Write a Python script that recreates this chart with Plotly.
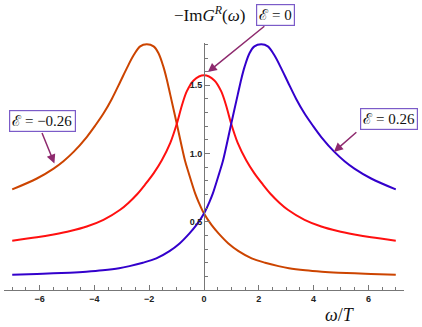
import plotly.graph_objects as go

# ---- data ----
omega_blue = [-7.0, -6.1, -5.5, -4.9, -4.3, -3.7, -3.1, -2.72, -2.23, -1.74, -1.26, -0.89, -0.53,
              -0.28, 0.0, 0.2, 0.32, 0.57, 0.69, 0.99, 1.23, 1.36, 1.48, 1.66, 1.84, 2.09, 2.33,
              2.57, 2.82, 3.06, 3.36, 3.67, 3.97, 4.28, 4.76, 5.13, 5.49, 6.1, 7.0]
img_blue = [0.112, 0.117, 0.122, 0.127, 0.134, 0.144, 0.159, 0.175, 0.200, 0.232, 0.285, 0.341,
            0.415, 0.475, 0.56, 0.646, 0.706, 0.865, 0.945, 1.215, 1.43, 1.545, 1.635, 1.735,
            1.785, 1.80, 1.785, 1.72, 1.624, 1.524, 1.402, 1.293, 1.205, 1.121, 1.012, 0.944,
            0.89, 0.817, 0.737]

omega_orange = [-7.0, -6.1, -5.49, -5.13, -4.76, -4.28, -3.97, -3.67, -3.36, -3.06, -2.82, -2.57,
                -2.33, -2.09, -1.84, -1.66, -1.48, -1.36, -1.23, -0.99, -0.69, -0.57, -0.32,
                -0.2, 0.0, 0.28, 0.53, 0.89, 1.26, 1.74, 2.23, 2.72, 3.1, 3.7, 4.3, 4.9, 5.5,
                6.1, 7.0]
img_orange = [0.737, 0.817, 0.89, 0.944, 1.012, 1.121, 1.205, 1.293, 1.402, 1.524, 1.624, 1.72,
              1.785, 1.80, 1.785, 1.735, 1.635, 1.545, 1.43, 1.215, 0.945, 0.865, 0.706, 0.646,
              0.56, 0.475, 0.415, 0.341, 0.285, 0.232, 0.200, 0.175, 0.159, 0.144, 0.134, 0.127,
              0.122, 0.117, 0.112]

omega_red = [-7.0, -6.1, -5.49, -4.88, -4.28, -3.67, -3.06, -2.75, -2.45, -2.15, -1.84, -1.54,
             -1.23, -0.99, -0.81, -0.63, -0.38, 0.0, 0.38, 0.63, 0.81, 0.99, 1.23, 1.54, 1.84,
             2.15, 2.45, 2.75, 3.06, 3.67, 4.28, 4.88, 5.49, 6.1, 7.0]
img_red = [0.361, 0.386, 0.407, 0.432, 0.465, 0.514, 0.588, 0.64, 0.70, 0.773, 0.855, 0.951,
           1.078, 1.22, 1.35, 1.455, 1.536, 1.573, 1.536, 1.455, 1.35, 1.22, 1.078, 0.951, 0.855,
           0.773, 0.70, 0.64, 0.588, 0.514, 0.465, 0.432, 0.407, 0.386, 0.361]

x_tick_vals = [-6, -4, -2, 0, 2, 4, 6]
x_tick_text = ["\u22126", "\u22124", "\u22122", "0", "2", "4", "6"]
y_tick_vals = [0.5, 1.0, 1.5]
y_tick_text = ["0.5", "1.0", "1.5"]

labels = ["\u2130 = \u22120.26", "\u2130 = 0", "\u2130 = 0.26"]

BLUE = "#3300CC"
ORANGE = "#CC4400"
RED = "#FF1010"
AXIS = "#777777"
BOX = "#7B5BC8"
ARROW = "#8E2A6E"
SERIF = "Liberation Serif, DejaVu Serif, serif"

fig = go.Figure()
for xs, ys, col in [(omega_orange, img_orange, ORANGE), (omega_red, img_red, RED),
                    (omega_blue, img_blue, BLUE)]:
    fig.add_trace(go.Scatter(x=xs, y=ys, mode="lines",
                             line=dict(color=col, width=2, shape="spline", smoothing=0.9),
                             showlegend=False, hoverinfo="skip"))

fig.update_layout(
    width=422, height=327,
    margin=dict(l=4, r=18, t=43, b=37, autoexpand=False),
    paper_bgcolor="white", plot_bgcolor="white",
    xaxis=dict(range=[-7.3, 7.3], showgrid=False, zeroline=False, automargin=False,
               showline=True, linecolor=AXIS, linewidth=1,
               ticks="inside", ticklen=5, tickcolor=AXIS, tickwidth=1,
               tickvals=x_tick_vals, ticktext=x_tick_text,
               tickfont=dict(family="Liberation Sans, Arial", size=9, color="#222", weight="bold"),
               minor=dict(dtick=0.5, tick0=0, ticks="inside", ticklen=3, tickcolor=AXIS)),
    yaxis=dict(range=[0, 1.81], showgrid=False, zeroline=False, automargin=False,
               anchor="free", position=0.5,
               showline=True, linecolor=AXIS, linewidth=1,
               ticks="inside", ticklen=5, tickcolor=AXIS, tickwidth=1,
               tickvals=y_tick_vals, ticktext=y_tick_text,
               tickfont=dict(family="Liberation Sans, Arial", size=9, color="#222", weight="bold"),
               minor=dict(dtick=0.1, tick0=0, ticks="inside", ticklen=3, tickcolor=AXIS)),
)

# axis labels (paper coordinates)
fig.add_annotation(x=0.5135, y=1.117, xref="paper", yref="paper", showarrow=False,
                   text="\u2212Im<i>G</i><sup><i>R</i></sup>(<i>\u03c9</i>)",
                   font=dict(family=SERIF, size=17, color="#111"),
                   xanchor="center", yanchor="middle")
fig.add_annotation(x=0.84, y=-0.101, xref="paper", yref="paper", showarrow=False,
                   text="<i>\u03c9</i>/<i>T</i>",
                   font=dict(family=SERIF, size=18, color="#111"),
                   xanchor="center", yanchor="middle")

# arrows: tip on the curve (data), tail offset in pixels toward the label box
arrows = [(0.14, 1.597, 58, -47), (-5.46, 0.927, -13, -32), (4.74, 1.012, 24, -21)]
for tx, ty, dx, dy in arrows:
    fig.add_annotation(x=tx, y=ty, ax=dx, ay=dy, xref="x", yref="y", axref="pixel", ayref="pixel",
                       text="", showarrow=True, arrowhead=2, arrowsize=1.2, arrowwidth=1.5,
                       arrowcolor=ARROW)

# label boxes
boxes = [(0.095, 0.686, labels[0]), (0.6775, 1.115, labels[1]), (0.9625, 0.692, labels[2])]
for bx, by, txt in boxes:
    fig.add_annotation(x=bx, y=by, xref="paper", yref="paper", showarrow=False, text=txt,
                       font=dict(family=SERIF, size=15, color="#111"),
                       bgcolor="white", bordercolor=BOX, borderwidth=1.2, borderpad=2,
                       xanchor="center", yanchor="middle")

fig.write_html("out.html", config={"displayModeBar": False},
               post_script="document.body.style.margin='0px';document.body.style.padding='0px';")
